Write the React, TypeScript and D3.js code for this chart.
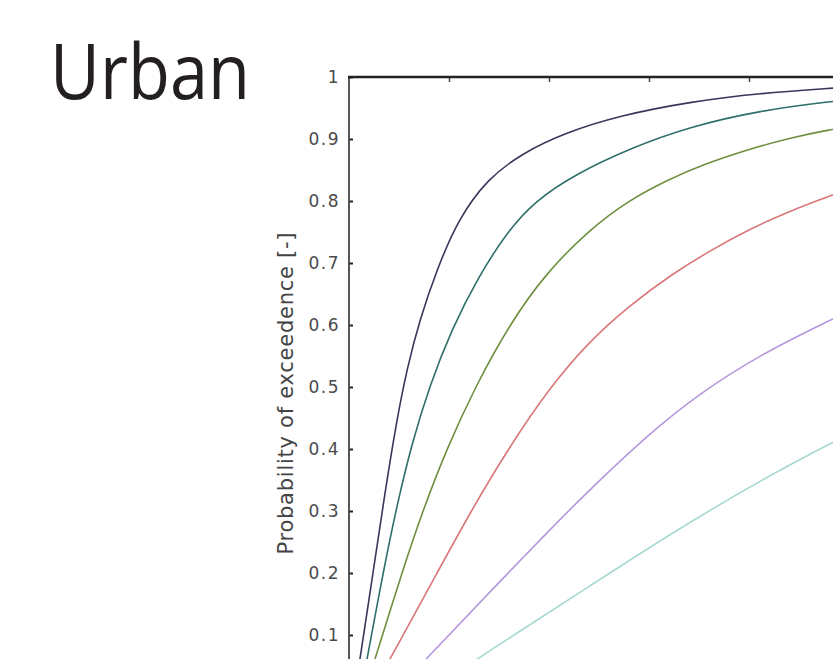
import * as d3 from 'd3'
import { useEffect, useRef } from 'react'

const width = 833, height = 659

// tick values
const yTicks = [0.1, 0.2, 0.3, 0.4, 0.5, 0.6, 0.7, 0.8, 0.9, 1]
const xTicks = [1, 2, 3, 4]

// curves, [x, probability]
const curveA = [[0.05, 0], [0.11, 0.061], [0.24, 0.2], [0.36, 0.33], [0.47, 0.44], [0.58, 0.53], [0.71, 0.61], [0.88, 0.69], [1.09, 0.77], [1.38, 0.835], [1.73, 0.877], [2.16, 0.91], [2.71, 0.938], [3.41, 0.96], [4.11, 0.974], [4.84, 0.982], [5, 0.984]]
const curveB = [[0.11, 0], [0.18, 0.061], [0.34, 0.2], [0.48, 0.31], [0.63, 0.41], [0.81, 0.504], [1.03, 0.594], [1.29, 0.677], [1.59, 0.752], [1.86, 0.8], [2.26, 0.843], [2.81, 0.885], [3.41, 0.92], [4.11, 0.946], [4.84, 0.961], [5, 0.963]]
const curveC = [[0.14, 0], [0.26, 0.061], [0.53, 0.201], [0.73, 0.297], [0.97, 0.398], [1.27, 0.503], [1.61, 0.602], [1.96, 0.682], [2.41, 0.755], [2.81, 0.802], [3.17, 0.833], [3.56, 0.86], [4.01, 0.884], [4.41, 0.902], [4.84, 0.916], [5, 0.92]]
const curveD = [[0.2, 0], [0.41, 0.061], [0.88, 0.2], [1.22, 0.3], [1.59, 0.4], [2.01, 0.5], [2.41, 0.575], [2.81, 0.632], [3.21, 0.68], [3.61, 0.72], [4.01, 0.755], [4.41, 0.784], [4.84, 0.81], [5, 0.819]]
const curveE = [[0.41, 0], [0.77, 0.061], [1.0, 0.1], [1.59, 0.2], [2.01, 0.27], [2.41, 0.335], [3.01, 0.426], [3.51, 0.49], [4.11, 0.552], [4.84, 0.61], [5, 0.622]]
const curveF = [[0.71, 0], [1.28, 0.061], [1.64, 0.099], [2.34, 0.172], [3.34, 0.276], [4.22, 0.359], [4.84, 0.411], [5, 0.424]]

const series = [
  { data: curveA, color: '#37375a' },
  { data: curveB, color: '#2e6f6a' },
  { data: curveC, color: '#6f8f3f' },
  { data: curveD, color: '#d9777a' },
  { data: curveE, color: '#b597dc' },
  { data: curveF, color: '#a6d9d2' },
]

const left = 349, top = 77

const chart = (node: SVGSVGElement) => {
  const svg = d3.select(node)
  svg.selectAll('*').remove()

  const x = d3.scaleLinear().domain([0, 5]).range([left, left + 500])
  const y = d3.scaleLinear().domain([0, 1]).range([top + 620, top])

  svg.append('text')
    .attr('x', 50).attr('y', 99)
    .attr('font-family', '"Open Sans", "Noto Sans", sans-serif')
    .attr('font-size', 77)
    .attr('fill', '#231f20')
    .attr('textLength', 200)
    .attr('lengthAdjust', 'spacingAndGlyphs')
    .text('Urban')

  svg.append('clipPath').attr('id', 'plot-clip')
    .append('rect')
    .attr('x', left).attr('y', top)
    .attr('width', width - left).attr('height', height - top)

  const line = d3.line<number[]>()
    .x(d => x(d[0]))
    .y(d => y(d[1]))
    .curve(d3.curveBasis)

  svg.append('g')
    .attr('clip-path', 'url(#plot-clip)')
    .attr('fill', 'none')
    .selectAll('path')
    .data(series)
    .join('path')
    .attr('stroke', d => d.color)
    .attr('stroke-width', 1.6)
    .attr('d', d => line(d.data))

  // left axis, ticks point inward
  const yAxis = svg.append('g')
    .attr('transform', `translate(${left},0)`)
    .call(d3.axisRight(y).tickValues(yTicks).tickSize(4).tickFormat(d3.format('~g')))
  yAxis.select('.domain').remove()
  yAxis.selectAll('.tick line').attr('stroke', '#222').attr('stroke-width', 2)
  yAxis.selectAll('.tick text')
    .attr('x', -9)
    .attr('text-anchor', 'end')
    .attr('font-family', '"DejaVu Sans", Verdana, sans-serif')
    .attr('font-size', 17)
    .attr('letter-spacing', 1.5)
    .attr('fill', '#4a4a4a')

  // top edge, ticks point down
  const xAxis = svg.append('g')
    .attr('transform', `translate(0,${top})`)
    .call(d3.axisBottom(x).tickValues(xTicks).tickSize(5).tickFormat(() => ''))
  xAxis.select('.domain').remove()
  xAxis.selectAll('.tick line').attr('stroke', '#444').attr('stroke-width', 1.5)

  svg.append('line')
    .attr('x1', left).attr('x2', left)
    .attr('y1', top).attr('y2', height)
    .attr('stroke', '#444').attr('stroke-width', 1.8)
  svg.append('line')
    .attr('x1', left - 1).attr('x2', width)
    .attr('y1', top).attr('y2', top)
    .attr('stroke', '#222').attr('stroke-width', 2.6)

  svg.append('text')
    .attr('transform', `translate(293,${(232 + 555) / 2}) rotate(-90)`)
    .attr('text-anchor', 'middle')
    .attr('font-family', '"DejaVu Sans", Verdana, sans-serif')
    .attr('font-size', 21)
    .attr('textLength', 322)
    .attr('lengthAdjust', 'spacing')
    .attr('fill', '#444')
    .text('Probability of exceedence [-]')
}

export default function App() {
  const ref = useRef<SVGSVGElement>(null)
  useEffect(() => {
    if (ref.current) chart(ref.current)
  }, [])
  return (
    <svg ref={ref} width={width} height={height}
      style={{ position: 'absolute', left: 0, top: 0, background: '#fff' }} />
  )
}
